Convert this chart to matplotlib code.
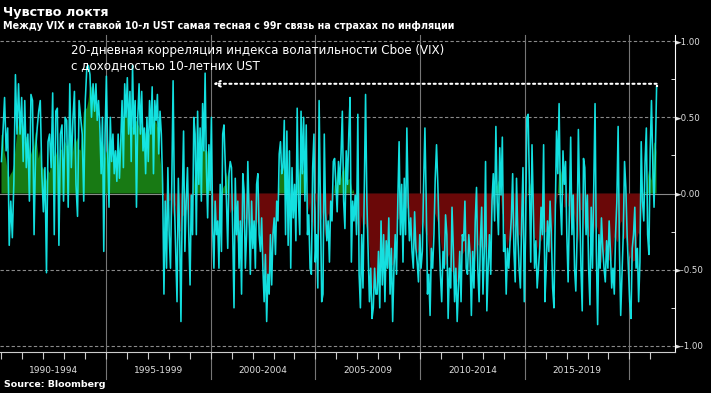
import numpy as np
import pandas as pd
import matplotlib.pyplot as plt
from matplotlib.transforms import blended_transform_factory

seg_start = [1990.0, 1994.45, 1998.95, 2003.45, 2007.95, 2012.45, 2016.95]
seg_end = 2021.3

corr_1990 = [0.21, 0.41, 0.63, 0.28, 0.43, -0.34, -0.05, -0.29, 0.08, 0.78, 0.39, 0.72, 0.39, 0.63, 0.21,
             0.61, 0.17, 0.39, -0.05, 0.65, 0.61, -0.27, 0.28, 0.43, 0.54, 0.61, 0.13, -0.12, 0.17, -0.52,
             0.34, 0.39, 0.17, 0.66, -0.27, 0.54, 0.56, -0.34, 0.39, 0.45, -0.05, 0.50, 0.48, -0.09, 0.72,
             0.17, 0.48, 0.67, 0.06, -0.15, 0.61, 0.50, 0.39, -0.05, 0.61, 0.83, 0.84, 0.78, 0.50, 0.72]
corr_1994 = [0.54, 0.72, 0.48, 0.61, 0.43, 0.13, 0.50, -0.38, 0.39, 0.77, 0.28, -0.09, 0.50, 0.21, 0.39,
             0.13, 0.28, 0.08, 0.39, 0.10, 0.34, 0.61, 0.17, 0.72, 0.50, 0.76, 0.39, 0.67, 0.21, 0.84,
             0.39, 0.61, -0.09, 0.50, 0.72, 0.39, 0.67, 0.28, 0.43, 0.13, 0.50, 0.21, 0.61, 0.39, 0.70,
             0.13, 0.61, 0.48, 0.65, 0.26, 0.54, 0.39, 0.06, -0.66, -0.05, -0.49, 0.17, -0.27, -0.49, 0.06,
             0.74, -0.05, -0.38, -0.71, 0.10, -0.27, -0.84, -0.05, 0.41, -0.38, -0.05, 0.17]
corr_1999 = [-0.27, -0.60, -0.01, -0.27, 0.50, 0.39, -0.27, 0.54, 0.06, 0.43, -0.05, 0.59, 0.28, 0.79, 0.17,
             -0.16, 0.32, 0.02, 0.50, -0.23, -0.49, -0.05, -0.27, -0.18, -0.49, 0.06, -0.38, 0.39, 0.45, 0.21,
             -0.05, -0.36, 0.13, 0.21, 0.17, -0.27, -0.75, 0.10, -0.27, -0.05, -0.49, -0.18, -0.66, 0.13, 0.02,
             -0.49, -0.27, 0.21, -0.14, -0.53, -0.05, -0.36, -0.18, -0.49, 0.06, 0.13, -0.27, -0.38, -0.16, -0.49,
             -0.71, -0.40, -0.84, -0.53, -0.66, -0.27, -0.60, -0.27, -0.16, -0.40, -0.05, -0.18, 0.26, 0.34, 0.13]
corr_2003 = [0.17, 0.48, -0.27, 0.41, -0.34, 0.28, -0.49, 0.17, -0.16, 0.06, -0.31, 0.56, -0.05, -0.27, 0.54,
             0.13, 0.50, -0.05, 0.45, -0.27, -0.14, -0.49, -0.53, 0.17, 0.39, -0.45, -0.27, -0.62, 0.61, -0.05,
             -0.71, -0.66, 0.39, -0.12, -0.31, -0.18, -0.45, -0.05, -0.18, 0.21, 0.23, 0.06, -0.12, 0.21, 0.06,
             0.26, 0.54, -0.05, -0.23, 0.28, 0.06, 0.39, 0.63, -0.45, -0.05, -0.18, -0.01, -0.27, 0.52, -0.53,
             -0.75, -0.27, -0.62, -0.01, 0.65, -0.05, -0.38, -0.71, -0.49, -0.82, -0.75, -0.49, -0.66]
corr_2008 = [-0.66, -0.38, -0.75, -0.18, -0.60, -0.27, -0.71, -0.31, -0.49, -0.16, -0.66, -0.36, -0.84, -0.49, -0.27,
             -0.53, -0.05, 0.34, -0.27, 0.06, -0.45, 0.10, -0.27, 0.43, -0.05, -0.31, -0.16, -0.38, -0.49, -0.12,
             -0.36, -0.45, -0.58, -0.27, -0.49, -0.38, 0.06, 0.43, -0.05, -0.66, -0.53, -0.80, -0.36, -0.49, -0.27,
             0.10, 0.32, 0.06, -0.27, -0.53, -0.71, -0.38, -0.49, -0.14, -0.27, -0.82, -0.49, -0.62, -0.09, -0.36,
             -0.71, -0.49, -0.84, -0.60, -0.38, -0.71, -0.27, -0.31, -0.05, -0.49, -0.53, -0.27, -0.40]
corr_2012 = [-0.80, -0.38, -0.62, -0.18, 0.04, -0.49, -0.71, -0.31, -0.09, -0.66, -0.38, 0.21, -0.77, -0.49, -0.27,
             -0.53, -0.05, 0.13, -0.18, 0.44, -0.05, -0.27, 0.30, -0.01, 0.37, -0.38, -0.27, -0.66, -0.36, -0.49,
             -0.31, -0.16, 0.13, -0.38, -0.58, 0.10, -0.27, -0.49, -0.62, -0.18, 0.17, -0.71, -0.27, 0.50, 0.52,
             0.06, -0.45, 0.32, -0.09, -0.49, -0.31, -0.62, -0.49, -0.36, -0.09, -0.27, 0.32, -0.71, -0.49, -0.18,
             -0.38, -0.05, -0.27, -0.62, -0.75, -0.14, 0.41, 0.13, 0.59, -0.05, -0.27, 0.28, 0.06]
corr_2017 = [0.21, -0.27, -0.58, -0.09, 0.37, -0.27, -0.01, -0.49, -0.64, -0.27, 0.42, -0.05, -0.49, -0.77, 0.23,
             0.17, -0.27, -0.01, -0.49, -0.73, -0.09, -0.49, 0.06, 0.59, -0.38, -0.86, -0.27, -0.49, -0.16, -0.36,
             -0.49, -0.58, -0.31, -0.49, -0.18, -0.38, -0.62, -0.49, -0.66, -0.27, -0.05, 0.44, -0.36, -0.80, -0.53,
             -0.27, 0.21, 0.04, -0.27, -0.49, -0.71, -0.82, -0.36, -0.27, -0.09, -0.49, -0.36, -0.71, -0.45, 0.34,
             -0.05, -0.18, 0.21, 0.43, -0.27, -0.40, 0.28, 0.61, 0.21, -0.09, 0.26, 0.70]

segments = [corr_1990, corr_1994, corr_1999, corr_2003, corr_2008, corr_2012, corr_2017]

period_labels = ['1990-1994', '1995-1999', '2000-2004', '2005-2009', '2010-2014', '2015-2019']
y_ticks = [-1.0, -0.5, 0.0, 0.5, 1.0]
arrow_level = 0.72
arrow_target = 2000.1

dates = []
for i, seg in enumerate(segments):
    t0 = seg_start[i]
    last = i == len(segments) - 1
    t1 = seg_end if last else seg_start[i + 1]
    dates += list(np.linspace(t0, t1, len(seg), endpoint=last))
dates = np.array(dates)
vals = np.concatenate(segments)
smooth = pd.Series(vals).rolling(7, center=True, min_periods=1).mean().values

fig = plt.figure(figsize=(7.11, 3.93), dpi=100, facecolor='black')
ax = fig.add_axes([0.0, 0.1043, 0.9494, 0.8066], facecolor='black')
ax.set_xlim(1989.93, 2022.18)
ax.set_ylim(-1.04, 1.04)

# сетка
for y in y_ticks:
    if y == 0:
        ax.axhline(y, color='#8a8a8a', lw=0.8, zorder=1)
    else:
        ax.axhline(y, color='#8a8a8a', lw=0.8, ls=(0, (3, 2)), zorder=1)
trans = blended_transform_factory(ax.transData, ax.transAxes)
for yr in range(1995, 2021, 5):
    ax.plot([yr, yr], [-0.085, 1], color='#767676', lw=0.8, transform=trans, clip_on=False, zorder=1)

ax.fill_between(dates, 0, smooth, where=smooth >= 0, interpolate=True, color='#187a14', lw=0, zorder=2)
ax.fill_between(dates, 0, smooth, where=smooth <= 0, interpolate=True, color='#6a0808', lw=0, zorder=2)
ax.plot(dates, vals, color='#14ecec', lw=1.15, alpha=0.95, zorder=3)

# стрелка к уровню 1999 года
ax.plot([dates[-1], dates[-1]], [vals[-1], arrow_level], color='white', lw=1.5, ls=':', zorder=4)
ax.annotate('', xy=(arrow_target, arrow_level), xytext=(dates[-1], arrow_level),
            arrowprops=dict(arrowstyle='->', color='white', lw=1.5, ls=':', shrinkA=0, shrinkB=0), zorder=4)

ax.text(1993.3, 0.89, '20-дневная корреляция индекса волатильности Cboe (VIX)\nс доходностью 10-летних UST',
        color='white', fontsize=8.6, va='center', linespacing=1.25, zorder=5)

# оси
for s in ['left', 'top']:
    ax.spines[s].set_visible(False)
ax.spines['right'].set_color('white')
ax.spines['bottom'].set_color('#cccccc')
ax.yaxis.tick_right()
ax.set_yticks(y_ticks)
ax.set_yticklabels(['\u25ba%.2f' % v for v in y_ticks])
ax.set_yticks([-0.75, -0.25, 0.25, 0.75], minor=True)
ax.tick_params(axis='y', which='major', length=0, pad=0, labelsize=6.2, labelcolor='#e0e0e0')
ax.tick_params(axis='y', which='minor', direction='in', length=3, color='white')
ax.set_xticks([])
ax.set_xticks(range(1990, 2022), minor=True)
ax.tick_params(axis='x', which='minor', direction='out', length=5, color='#cccccc', width=0.8)
for i, lab in enumerate(period_labels):
    ax.text(1992.5 + 5 * i, -0.058, lab, transform=trans, color='#e0e0e0', fontsize=6.5,
            ha='center', va='center')

fig.text(0.004, 0.968, 'Чувство локтя', color='white', fontsize=9.2, fontweight='bold', va='center')
fig.text(0.004, 0.935, 'Между VIX и ставкой 10-л UST самая тесная с 99г связь на страхах по инфляции',
         color='white', fontsize=6.9, fontweight='bold', va='center')
fig.text(0.006, 0.022, 'Source: Bloomberg', color='white', fontsize=6.8, fontweight='bold', va='center')

fig.savefig('out.png', dpi=100, facecolor='black')
